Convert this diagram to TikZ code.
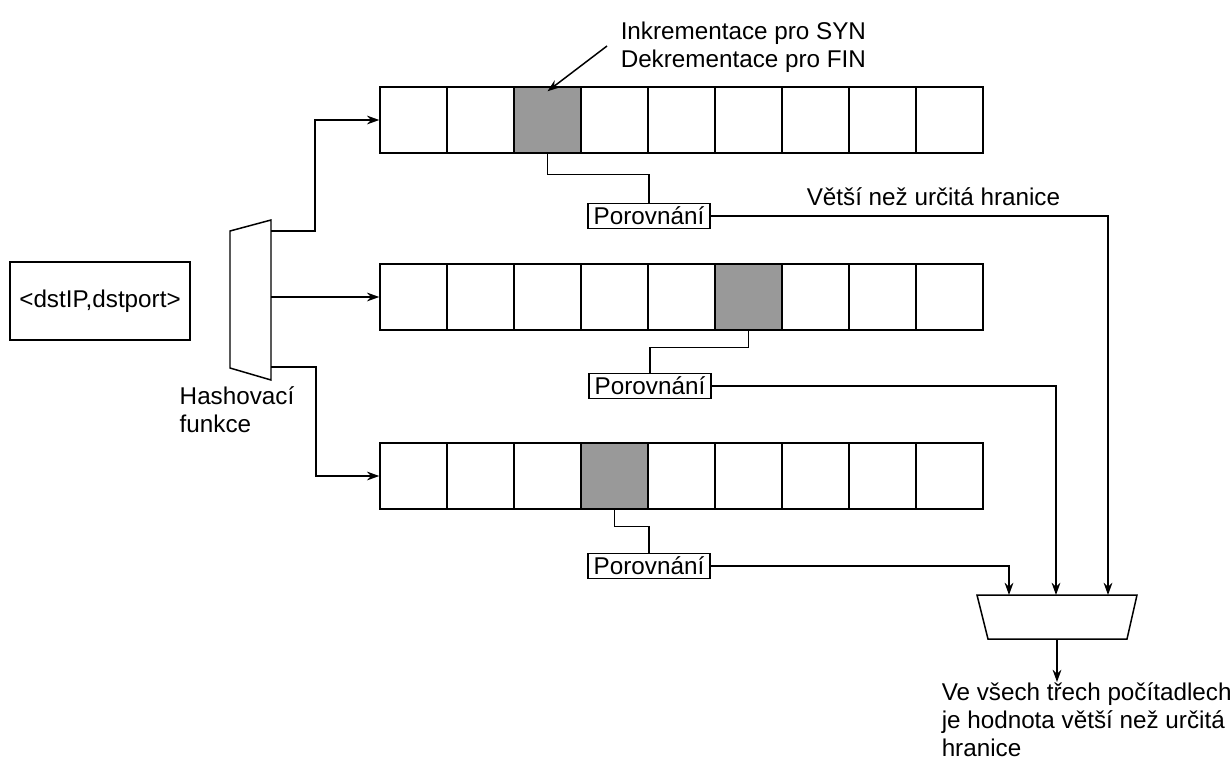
\documentclass[tikz,border=0pt]{standalone}
\usepackage{fontspec}
\setmainfont{Liberation Sans}
\usetikzlibrary{arrows.meta,positioning}
\definecolor{cellgray}{HTML}{999999}
\begin{document}
\begin{tikzpicture}[
      x=0.02cm,y=-0.02cm,
      line width=0.85pt,
      every node/.style={font=\fontsize{13.8}{15.8}\selectfont},
      cell/.style={
         rectangle,
         draw=black,
         minimum width=1.34cm,
         minimum height=1.32cm,
         inner sep=0pt},
      hit/.style={cell,fill=cellgray},
      cmpbox/.style={
         rectangle,
         draw=black,
         minimum width=2.44cm,
         minimum height=0.5cm,
         inner sep=1pt},
      mytext/.style={
         rectangle,
         align=left,
         inner sep=0pt},
      myarrow/.style={-{Stealth[length=7pt,width=5pt]}}
      ]
      \useasboundingbox (0,0) rectangle (1231,765);
      % counter arrays
      \foreach \r/\y/\s in {1/120/3, 2/297/6, 3/476/4} {
         \foreach \c in {1,...,9}
            \node[cell] (r\r c\c) at ({380+67*(\c-0.5)},\y) {};
         \node[hit] (r\r h) at (r\r c\s) {};
      }
      \node[draw,minimum width=3.6cm,minimum height=1.56cm] (src) at (100,301) {<dstIP,dstport>};
      % hash function
      \coordinate (hA) at (230,231);
      \coordinate (hB) at (271,220);
      \coordinate (hC) at (271,380);
      \coordinate (hD) at (230,368);
      \draw (hA) -- (hB) -- (hC) -- (hD) -- cycle;
      \coordinate (h1) at (271,231);
      \coordinate (h2) at (271,297);
      \coordinate (h3) at (271,367);
      \node[mytext,anchor=north west] (hash) at (179,386) {Hashovací\\funkce};
      \draw[myarrow] (h1) -- ++(44,0) |- (r1c1.west);
      \draw[myarrow] (h2) -- (r2c1.west);
      \draw[myarrow] (h3) -- ++(45,0) |- (r3c1.west);
      % comparators
      \node[cmpbox] (cmp1) at (649,216) {Porovnání};
      \node[cmpbox] (cmp2) at (650,386) {Porovnání};
      \node[cmpbox] (cmp3) at (649,566) {Porovnání};
      \draw (r1h.south) -- ++(0,21) -| (cmp1.north);
      \draw (r2h.south) -- ++(0,17) -| (cmp2.north);
      \draw (r3h.south) -- ++(0,17) -| (cmp3.north);
      % AND block
      \coordinate (mA) at (977,595);
      \coordinate (mB) at (1137,595);
      \coordinate (mC) at (1127,639);
      \coordinate (mD) at (988,639);
      \draw (mA) -- (mB) -- (mC) -- (mD) -- cycle;
      \coordinate (in1) at (1009,595);
      \coordinate (in2) at (1056,595);
      \coordinate (in3) at (1108,595);
      \coordinate (mo) at (1057,639);
      \draw[myarrow] (cmp3.east) -| (in1);
      \draw[myarrow] (cmp2.east) -| (in2);
      \draw[myarrow] (cmp1.east) -| (in3);
      \node[mytext,anchor=west] (thr) at (806,197) {Větší než určitá hranice};
      \node[mytext,anchor=north west] (res) at (941,682)
         {Ve všech třech počítadlech\\je hodnota větší než určitá\\hranice};
      \draw[myarrow] (mo) -- (mo |- res.north);
      % increment note
      \node[mytext,anchor=west] (inc) at (620,47) {Inkrementace pro SYN\\Dekrementace pro FIN};
      \coordinate (incp) at (607,46);
      \draw[myarrow] (incp) -- ([yshift=-0.1cm]r1h.north);
\end{tikzpicture}
\end{document}
